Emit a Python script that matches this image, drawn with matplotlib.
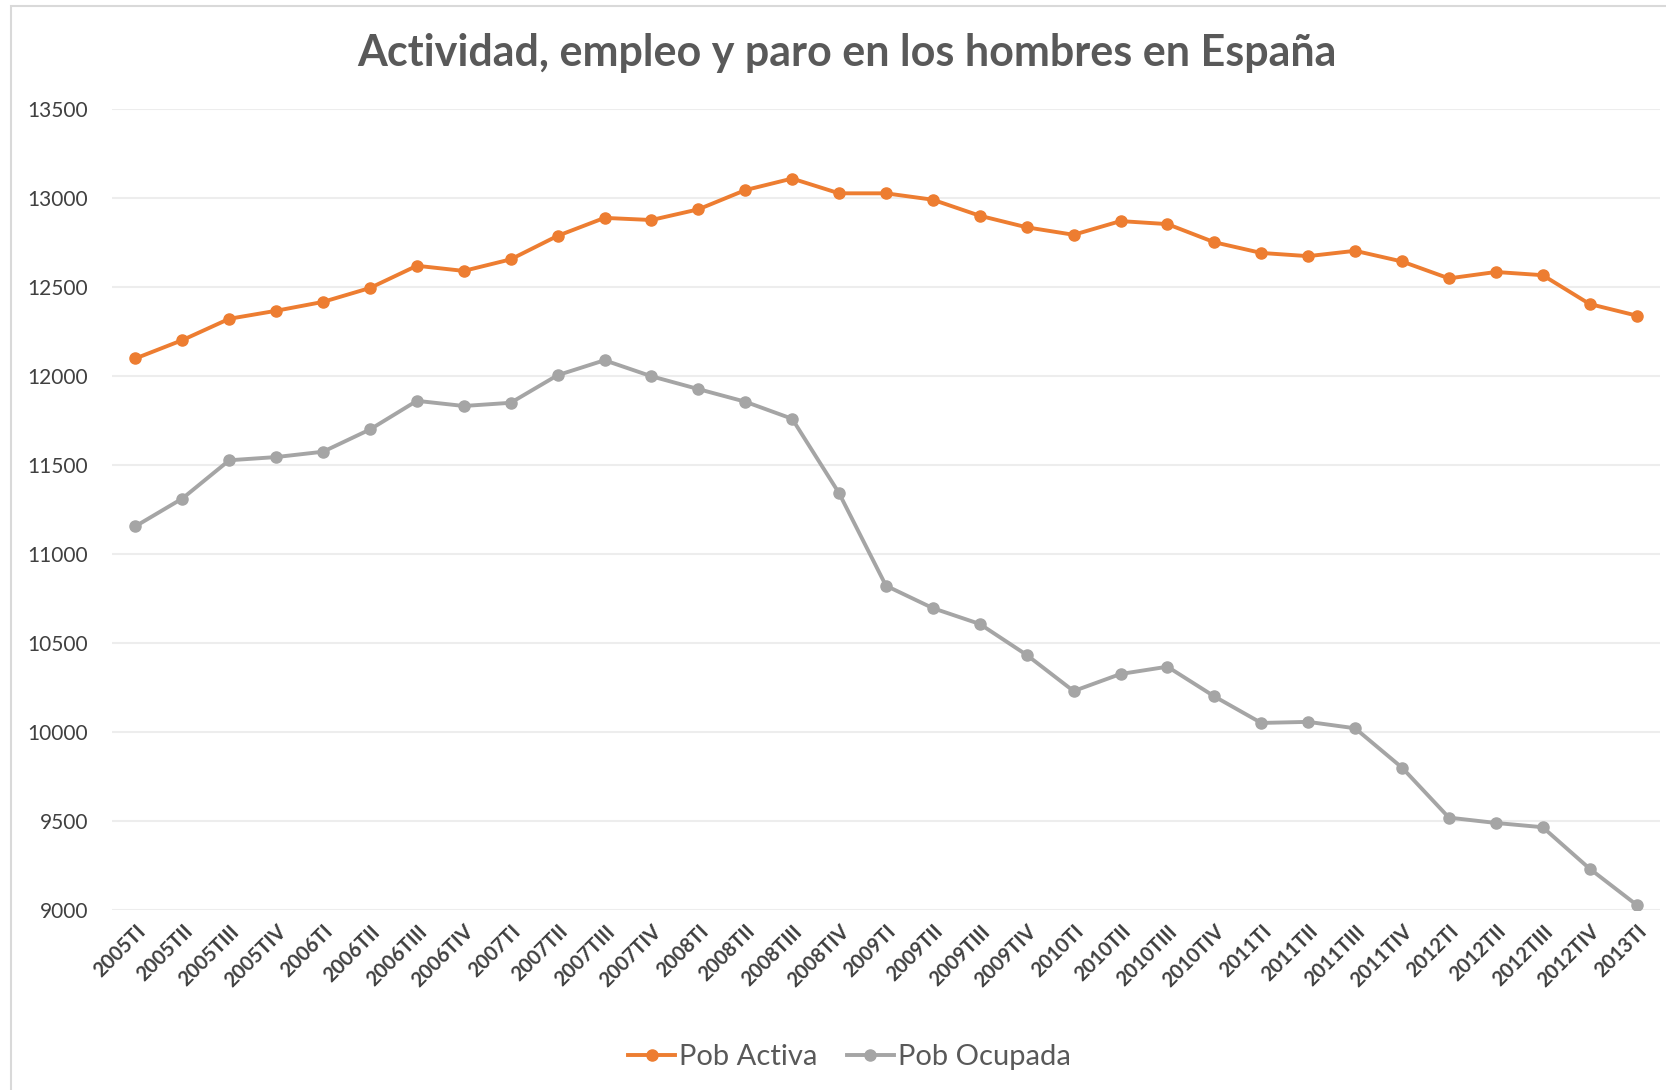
import matplotlib.pyplot as plt
from matplotlib.patches import Rectangle

# ---- datos (miles de personas) ----
trimestres = [
    "2005TI", "2005TII", "2005TIII", "2005TIV",
    "2006TI", "2006TII", "2006TIII", "2006TIV",
    "2007TI", "2007TII", "2007TIII", "2007TIV",
    "2008TI", "2008TII", "2008TIII", "2008TIV",
    "2009TI", "2009TII", "2009TIII", "2009TIV",
    "2010TI", "2010TII", "2010TIII", "2010TIV",
    "2011TI", "2011TII", "2011TIII", "2011TIV",
    "2012TI", "2012TII", "2012TIII", "2012TIV",
    "2013TI",
]
pob_activa = [
    12100, 12203, 12323, 12368, 12418, 12496, 12621, 12592,
    12657, 12789, 12890, 12878, 12938, 13046, 13111, 13028,
    13028, 12992, 12902, 12837, 12795, 12872, 12855, 12753,
    12693, 12675, 12705, 12645, 12550, 12586, 12568, 12406,
    12341,
]
pob_ocupada = [
    11157, 11313, 11528, 11546, 11576, 11701, 11862, 11833,
    11851, 12006, 12090, 12000, 11928, 11857, 11761, 11343,
    10823, 10697, 10608, 10434, 10231, 10327, 10368, 10201,
    10052, 10058, 10022, 9801, 9520, 9490, 9466, 9233,
    9030,
]
yticks = [9000, 9500, 10000, 10500, 11000, 11500, 12000, 12500, 13000, 13500]

naranja = "#ED7D31"
gris = "#A5A5A5"
texto = "#595959"

plt.rcParams["font.family"] = ["Lato", "DejaVu Sans"]

fig = plt.figure(figsize=(16.66, 10.9), dpi=100)
ax = fig.add_axes([0.0672, 0.165, 0.9292, 0.7347])

x = list(range(len(trimestres)))
ax.plot(x, pob_activa, color=naranja, lw=2.8, marker="o", ms=8, label="Pob Activa")
ax.plot(x, pob_ocupada, color=gris, lw=2.8, marker="o", ms=8, label="Pob Ocupada")

ax.set_xlim(-0.5, len(trimestres) - 0.5)
ax.set_ylim(9000, 13500)
ax.set_yticks(yticks)
ax.set_yticklabels([str(v) for v in yticks], fontsize=15, color="#404040")
ax.set_xticks(x)
ax.set_xticklabels(trimestres, rotation=45, ha="right", rotation_mode="anchor",
                   fontsize=14.5, color="#404040", fontweight="bold")
ax.tick_params(axis="y", length=0, pad=17)
ax.tick_params(axis="x", length=0, pad=8)
ax.grid(axis="y", color="#EDEDED", lw=1.5)
ax.set_axisbelow(True)
for s in ax.spines.values():
    s.set_visible(False)

fig.text(0.5085, 0.951, "Actividad, empleo y paro en los hombres en España",
         ha="center", va="center", fontsize=31, fontweight="bold", color=texto)

fig.legend(loc="center", bbox_to_anchor=(0.510, 0.030), ncol=2, frameon=False,
           fontsize=21, handlelength=1.6, handletextpad=0.15, columnspacing=1.0,
           labelcolor=texto)

# marco del gráfico
fig.patches.append(Rectangle((11 / 1666, -0.05), 1.2, 1.0 - 6 / 1090 + 0.05,
                             transform=fig.transFigure, fill=False,
                             edgecolor="#D9D9D9", lw=1.5))

fig.savefig("out.png", dpi=100)
